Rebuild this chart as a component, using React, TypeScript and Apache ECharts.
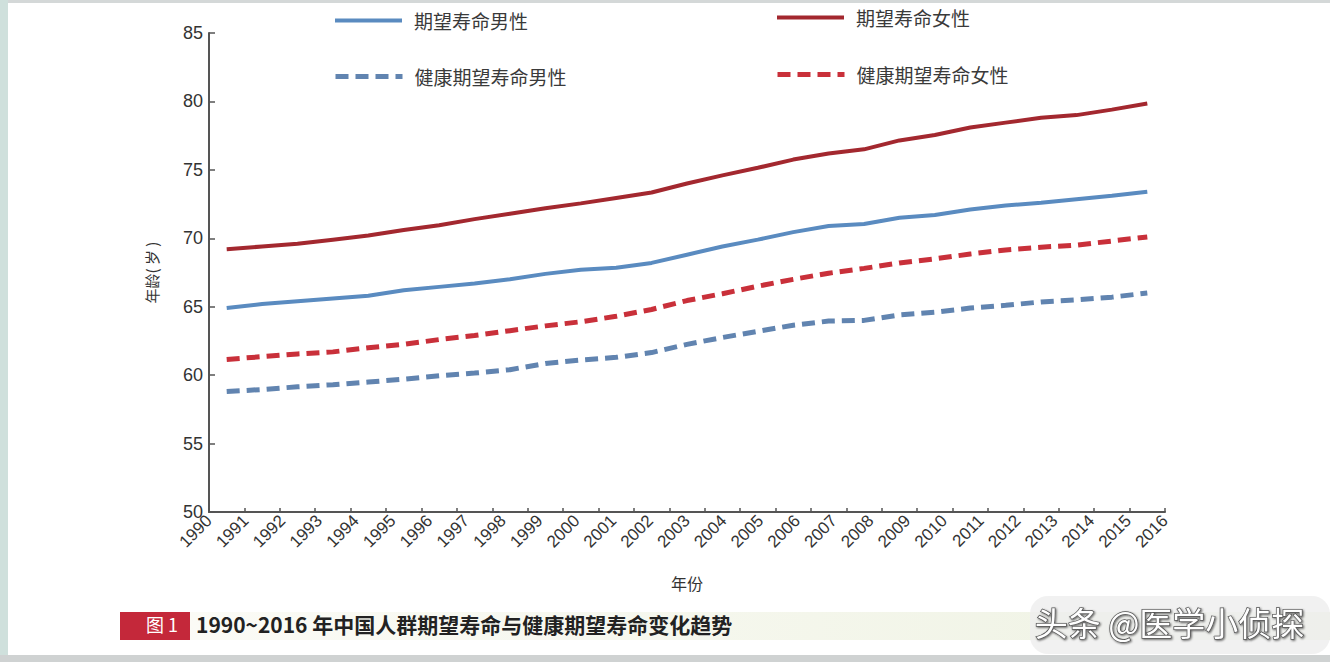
import React, { useEffect, useRef } from "react";
import * as echarts from "echarts";

const years = ["1990","1991","1992","1993","1994","1995","1996","1997","1998","1999","2000","2001","2002","2003","2004","2005","2006","2007","2008","2009","2010","2011","2012","2013","2014","2015","2016"];

const maleLE = [64.9, 65.2, 65.4, 65.6, 65.8, 66.2, 66.45, 66.7, 67.0, 67.4, 67.7, 67.85, 68.2, 68.8, 69.4, 69.9, 70.45, 70.9, 71.05, 71.5, 71.7, 72.1, 72.4, 72.6, 72.85, 73.1, 73.4];
const femaleLE = [69.2, 69.4, 69.6, 69.9, 70.2, 70.6, 70.95, 71.4, 71.8, 72.2, 72.55, 72.95, 73.35, 74.0, 74.6, 75.15, 75.75, 76.2, 76.5, 77.15, 77.55, 78.1, 78.45, 78.8, 79.0, 79.4, 79.85];
const maleHALE = [58.8, 58.95, 59.15, 59.3, 59.5, 59.7, 59.95, 60.15, 60.4, 60.85, 61.1, 61.3, 61.65, 62.25, 62.75, 63.2, 63.65, 63.95, 64.0, 64.4, 64.6, 64.9, 65.1, 65.35, 65.5, 65.7, 66.0];
const femaleHALE = [61.15, 61.35, 61.55, 61.7, 62.0, 62.25, 62.6, 62.9, 63.25, 63.6, 63.9, 64.3, 64.8, 65.45, 65.95, 66.5, 67.0, 67.45, 67.8, 68.2, 68.5, 68.85, 69.15, 69.35, 69.5, 69.8, 70.1];

const seriesNames = ["期望寿命男性", "期望寿命女性", "健康期望寿命男性", "健康期望寿命女性"];
const yTicks = { min: 50, max: 85, interval: 5 };
const caption = "1990~2016 年中国人群期望寿命与健康期望寿命变化趋势";
const figLabel = "图 1";
const watermark = "头条 @医学小侦探";

const FONT = "'Noto Sans CJK SC', 'Liberation Sans', sans-serif";

export default function App() {
  const ref = useRef<HTMLDivElement>(null);
  useEffect(() => {
    if (!ref.current) return;
    const chart = echarts.init(ref.current, null, { renderer: "svg" });
    const legendText = { fontSize: 19, color: "#3a3a3a", fontFamily: FONT, padding: [0, 0, 0, 7] };
    const mkLegend = (name: string, left: number, top: number, width: number) => ({
      data: [name],
      left,
      top,
      padding: 0,
      itemWidth: 67,
      itemHeight: 14,
      itemGap: 12,
      itemStyle: { opacity: 0 },
      lineStyle: { width },
      textStyle: legendText,
    });
    const option: any = {
      animation: false,
      backgroundColor: "#ffffff",
      textStyle: { fontFamily: FONT },
      legend: [
        mkLegend(seriesNames[0], 333, 11, 4),
        mkLegend(seriesNames[1], 775, 8, 4),
        mkLegend(seriesNames[2], 333, 67, 5),
        mkLegend(seriesNames[3], 775, 65, 5),
      ],
      grid: { left: 209, right: 165, top: 33, bottom: 150, containLabel: false },
      xAxis: [
        {
          type: "category",
          data: years,
          boundaryGap: true,
          position: "bottom",
          offset: 0,
          axisLine: { show: true, lineStyle: { color: "#555", width: 2 } },
          axisTick: { show: true, inside: true, length: 4, lineStyle: { color: "#555", width: 1.5 } },
          axisLabel: { show: false },
          splitLine: { show: false },
          name: "年份",
          nameLocation: "middle",
          nameGap: 63,
          nameTextStyle: { fontSize: 16, color: "#333", fontFamily: FONT },
        },
        {
          type: "category",
          data: years,
          boundaryGap: false,
          position: "bottom",
          offset: 0,
          axisLine: { show: false },
          axisTick: { show: false },
          splitLine: { show: false },
          axisLabel: {
            show: true,
            interval: 0,
            rotate: 45,
            margin: 6,
            fontSize: 17,
            color: "#333",
            fontFamily: "'Liberation Sans', Arial, sans-serif",
          },
        },
      ],
      yAxis: {
        type: "value",
        min: yTicks.min,
        max: yTicks.max,
        interval: yTicks.interval,
        axisLine: { show: true, lineStyle: { color: "#555", width: 2 } },
        axisTick: { show: true, inside: true, length: 6, lineStyle: { color: "#555", width: 1.5 } },
        splitLine: { show: false },
        axisLabel: { margin: 6, fontSize: 18, color: "#333", fontFamily: "'Liberation Sans', Arial, sans-serif" },
        name: "年龄( 岁 )",
        nameLocation: "middle",
        nameGap: 50,
        nameRotate: 90,
        nameTextStyle: { fontSize: 15, color: "#333", fontFamily: FONT },
      },
      series: [
        {
          name: seriesNames[0], type: "line", data: maleLE, xAxisIndex: 0, symbol: "none",
          lineStyle: { color: "#5a8bc0", width: 4 }, itemStyle: { color: "#5a8bc0" },
        },
        {
          name: seriesNames[1], type: "line", data: femaleLE, xAxisIndex: 0, symbol: "none",
          lineStyle: { color: "#a3282f", width: 4 }, itemStyle: { color: "#a3282f" },
        },
        {
          name: seriesNames[2], type: "line", data: maleHALE, xAxisIndex: 0, symbol: "none",
          lineStyle: { color: "#6184b0", width: 5, type: [13, 7] }, itemStyle: { color: "#6184b0" },
        },
        {
          name: seriesNames[3], type: "line", data: femaleHALE, xAxisIndex: 0, symbol: "none",
          lineStyle: { color: "#c9303a", width: 5, type: [13, 7] }, itemStyle: { color: "#c9303a" },
        },
      ],
      graphic: [
        { type: "rect", left: 0, top: 0, shape: { width: 1330, height: 3 }, style: { fill: "#d4d8d8" }, silent: true },
        { type: "rect", left: 0, top: 0, shape: { width: 8, height: 662 }, style: { fill: "#cfe0dc" }, silent: true },
        { type: "rect", left: 0, top: 655, shape: { width: 1330, height: 7 }, style: { fill: "#cfd2d2" }, silent: true },
        {
          type: "rect", left: 190, top: 612, shape: { width: 1140, height: 28 },
          style: {
            fill: new echarts.graphic.LinearGradient(0, 0, 1, 0, [
              { offset: 0, color: "#fbfbf6" },
              { offset: 1, color: "#eef2e2" },
            ]),
          },
          silent: true,
        },
        { type: "rect", left: 1030, top: 596, shape: { width: 300, height: 58, r: 18 }, style: { fill: "#ededed", opacity: 0.8 }, silent: true },
        { type: "rect", left: 120, top: 612, shape: { width: 70, height: 28 }, style: { fill: "#c4283a" }, silent: true },
        {
          type: "text", left: 146, top: 615,
          style: { text: figLabel, fill: "#ffffff", fontSize: 18, fontFamily: FONT },
          silent: true,
        },
        {
          type: "text", left: 196, top: 613,
          style: { text: caption, fill: "#222", fontSize: 21, fontWeight: "bold", fontFamily: FONT },
          silent: true,
        },
        {
          type: "text", left: 1034, top: 605,
          style: {
            text: watermark, fill: "#ffffff", fontSize: 33, fontFamily: FONT,
            stroke: "#555", lineWidth: 1.5,
            textShadowColor: "rgba(0,0,0,0.6)", textShadowBlur: 2, textShadowOffsetX: 1, textShadowOffsetY: 1,
          },
          silent: true,
        },
      ],
    };
    chart.setOption(option);
    return () => chart.dispose();
  }, []);
  return <div ref={ref} style={{ position: "fixed", left: 0, top: 0, width: 1330, height: 662 }} />;
}
